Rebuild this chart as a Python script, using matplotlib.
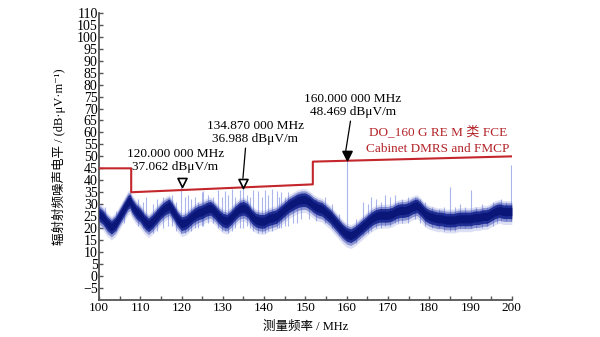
import numpy as np
import matplotlib.pyplot as plt
from matplotlib.path import Path

plt.rcParams['font.family'] = ['Liberation Serif', 'Noto Sans CJK SC', 'DejaVu Serif']

# Measured noise floor (band centre, dBuV/m) vs frequency (MHz)
freq = [100, 101, 102, 103, 104, 105, 106, 107, 107.5, 108, 109, 110, 111, 112, 113,
        114, 115, 116, 117, 118, 119, 120, 121, 122, 123, 124, 125, 126, 127, 128,
        129, 130, 131, 132, 133, 134, 135, 136, 137, 138, 139, 140, 141, 142, 143,
        144, 145, 146, 147, 148, 149, 150, 151, 152, 153, 154, 155, 156, 157, 158,
        159, 160, 161, 162, 163, 164, 165, 166, 167, 168, 169, 170, 171, 172, 173,
        174, 175, 176, 177, 178, 179, 180, 181, 182, 183, 184, 185, 186, 187, 188,
        189, 190, 191, 192, 193, 194, 195, 196, 197, 198, 199, 200]
level = [26, 24.5, 22, 20.5, 22, 25, 28, 31, 31.5, 29.5, 27, 25.5, 23, 21.5, 23,
         25, 27, 28.5, 29.5, 27, 24, 22, 22.5, 24, 25.5, 26.5, 27, 28, 28.5, 27,
         25, 23.5, 23, 24.5, 26.5, 28, 28.5, 27.5, 25, 23.5, 23, 23, 24, 24.5, 25,
         26.5, 28, 29.5, 30.5, 31.5, 32, 32, 31, 29.5, 28.5, 28, 26.5, 25, 23, 21,
         19, 17.5, 17, 18, 19.5, 21, 22.5, 24, 25, 25.5, 25.5, 25.5, 26, 27, 27.5,
         27.5, 28, 29, 29.5, 28, 26, 25, 24.5, 24, 24, 23.5, 23.5, 23.5, 24, 24,
         24, 24, 24.5, 24.5, 25, 25, 26, 27, 27.5, 27, 27, 27]

# Narrowband spikes: frequency, top and bottom level
spike_f = [101.5, 104.2, 106.0, 109.5, 110.6, 111.5, 113.0, 114.0, 115.6, 116.8,
           117.6, 118.7, 119.9, 120.8, 121.6, 122.4, 123.2, 124.0, 124.9, 125.3,
           126.5, 127.6, 128.9, 129.7, 130.5, 131.3, 132.1, 133.0, 134.1, 134.9,
           135.8, 136.6, 137.4, 138.6, 139.4, 140.2, 141.0, 141.8, 143.0, 143.6,
           144.2, 145.0, 145.8, 146.9, 147.9, 149.0, 150.8, 152.6, 154.7, 156.5,
           158.2, 160.0, 162.2, 164.0, 165.1, 166.0, 167.2, 168.3, 169.2, 170.5,
           171.7, 172.5, 173.3, 174.9, 176.5, 177.8, 178.9, 180.6, 182.3, 183.6,
           185.0, 186.2, 187.4, 188.6, 190.1, 191.3, 192.7, 194.0, 195.4, 196.3,
           197.5, 198.6, 199.9]
spike_top = [29, 27, 31, 32, 31, 33, 30, 32, 33, 32,
             34, 31, 37.1, 33, 34, 32, 33, 31, 35, 35.5,
             34, 33, 36, 33, 35.5, 34, 36.5, 33, 36, 37.0,
             34, 33, 36, 35.5, 33, 36, 34, 36.5, 35.5, 33,
             35, 33, 35, 32, 34, 33, 33, 32, 33, 30,
             26, 48.5, 24, 31, 30, 33, 32, 31, 34, 33,
             34, 31, 32, 33, 33, 32, 31, 29, 28, 29,
             37, 29, 30, 29, 36, 29, 30, 29, 31, 30,
             32, 31, 46.5]
spike_bot = [21, 19, 22, 21, 20, 19, 18, 19, 20, 21,
             21, 19, 18, 18, 19, 19, 20, 20, 21, 21,
             22, 22, 20, 19, 19, 18, 19, 20, 20, 20,
             21, 20, 19, 18, 18, 18, 19, 19, 20, 20,
             20, 21, 21, 22, 22, 24, 24, 23, 22, 20,
             17, 16, 14, 17, 18, 19, 20, 20, 21, 21,
             22, 22, 22, 22, 24, 22, 21, 20, 20, 19,
             19, 19, 20, 20, 20, 20, 20, 21, 21, 22,
             23, 23, 23]

# DO-160G limit line
limit_f = [100, 107.8, 107.8, 151.8, 151.8, 200]
limit_db = [45, 45, 35, 38.3, 47.8, 50]

# Peak markers
mk_f = [120.0, 134.87, 160.0]
mk_db = [37.062, 36.988, 48.469]
mk_filled = [False, False, True]

navy = '#0f1e8a'
red = '#c3262b'

fig = plt.figure(figsize=(6, 3.37), dpi=100)
ax = fig.add_axes([0.165, 0.11, 0.688, 0.852])

lev = np.array(level)
ax.vlines(spike_f, spike_bot, spike_top, color='#8f9de6', lw=0.8, alpha=0.75, zorder=2)
# noise band drawn as layers fading outwards
ax.fill_between(freq, lev - 5.5, lev + 4.5, color='#5566c8', alpha=0.2, lw=0, zorder=3)
ax.fill_between(freq, lev - 4.2, lev + 3.6, color='#2a3aa8', alpha=0.45, lw=0, zorder=3)
ax.fill_between(freq, lev - 3.0, lev + 2.7, color=navy, alpha=0.85, lw=0, zorder=4)
ax.fill_between(freq, lev - 1.8, lev + 1.6, color='#0a1678', lw=0, zorder=4)

ax.plot(limit_f, limit_db, color=red, lw=1.5, zorder=5)

# triangle with its tip at the data point
tri = Path([(-0.55, 1.1), (0.55, 1.1), (0, 0), (-0.55, 1.1)],
           [Path.MOVETO, Path.LINETO, Path.LINETO, Path.CLOSEPOLY])
for f, d, filled in zip(mk_f, mk_db, mk_filled):
    ax.plot(f, d, marker=tri, ms=13, mec='black', mew=1.2,
            mfc='black' if filled else 'white', zorder=6)

fs = 9.5
ax.text(118.5, 48.3, '120.000 000 MHz\n37.062 dBμV/m', ha='center', va='center',
        fontsize=fs, linespacing=1.2)
ax.annotate('134.870 000 MHz\n36.988 dBμV/m', xy=(134.87, 40.9), xytext=(137.9, 60),
            ha='center', va='center', fontsize=fs, linespacing=1.2,
            arrowprops=dict(arrowstyle='-', color='black', lw=0.9,
                            shrinkA=0, shrinkB=0, relpos=(0.4, 0)))
ax.annotate('160.000 000 MHz\n48.469 dBμV/m', xy=(159.7, 51.5), xytext=(161.5, 71.3),
            ha='center', va='center', fontsize=fs, linespacing=1.2,
            arrowprops=dict(arrowstyle='-', color='black', lw=0.9,
                            shrinkA=0, shrinkB=0, relpos=(0.48, 0)))
ax.text(182.1, 56.8, 'DO_160 G RE M 类 FCE\nCabinet DMRS and FMCP', ha='center',
        va='center', fontsize=fs, color='#b3242a', linespacing=1.45)

ax.set_xlim(100, 200)
ax.set_ylim(-10, 110)
ax.set_xticks(np.arange(100, 201, 10))
ax.set_xticks(np.arange(105, 200, 10), minor=True)
ax.set_yticks(np.arange(-5, 111, 5))
ax.tick_params(axis='both', which='both', direction='in', length=3, width=1,
               color='#555555', pad=1)
ax.tick_params(axis='x', labelsize=9.5, pad=1.5)
ax.tick_params(axis='y', labelsize=10)
for s in ['top', 'right']:
    ax.spines[s].set_visible(False)
for s in ['left', 'bottom']:
    ax.spines[s].set_color('#555555')
    ax.spines[s].set_linewidth(1.3)

ax.set_xlabel('测量频率 / MHz', fontsize=9, labelpad=5)
ax.set_ylabel('辐射射频噪声电平 / (dB·μV·m⁻¹)', fontsize=9, labelpad=8)

fig.savefig('out.png', dpi=100)
